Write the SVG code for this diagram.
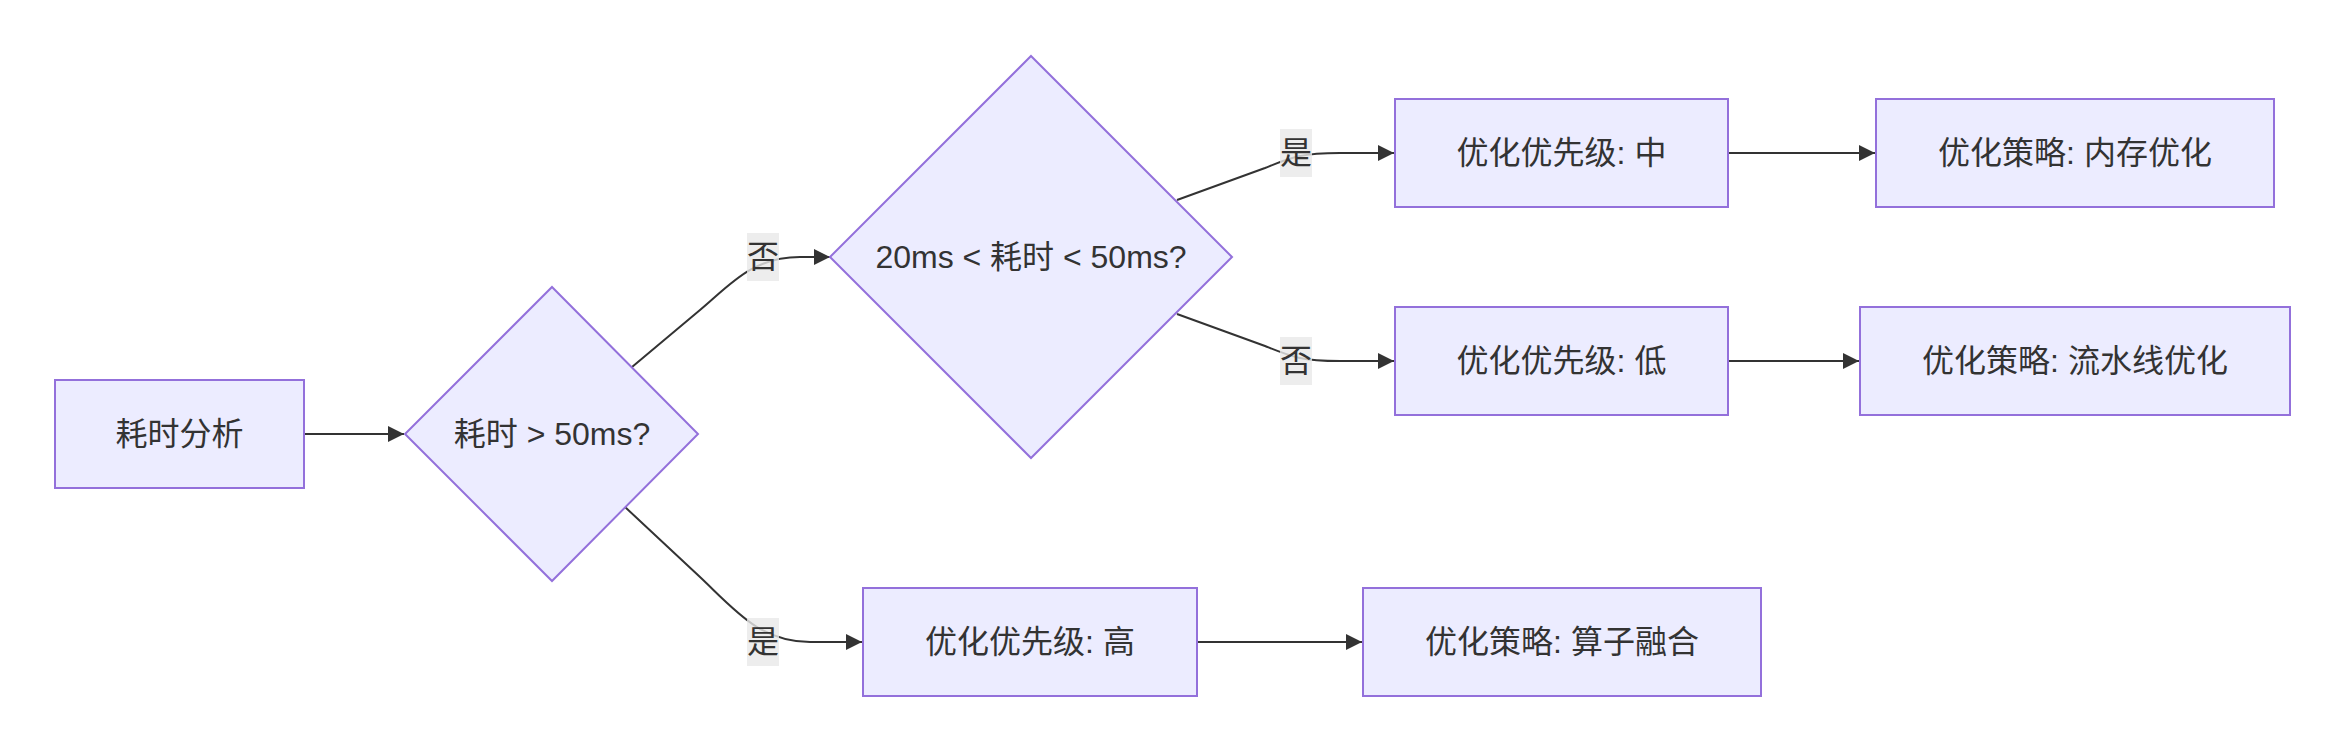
<svg xmlns="http://www.w3.org/2000/svg" width="2345" height="752" viewBox="0 0 2345 752">
<style>
  .node rect, .node polygon { fill: #ECECFF; stroke: #9370DB; stroke-width: 2; }
  .node text, .elabel text { font-family: "Liberation Sans", "Noto Sans CJK SC", sans-serif; font-size: 32px; fill: #333333; text-anchor: middle; dominant-baseline: central; }
  .edge { fill: none; stroke: #333333; stroke-width: 2; marker-end: url(#arrow); }
  .elabel rect { fill: #e8e8e8; fill-opacity: 0.8; }
</style>
<defs>
  <marker id="arrow" viewBox="0 0 10 10" refX="10" refY="5" markerUnits="userSpaceOnUse" markerWidth="16" markerHeight="16" orient="auto">
    <path d="M0,0 L10,5 L0,10 z" fill="#333333"/>
  </marker>
</defs>
<rect width="2345" height="752" fill="#ffffff"/>
<g id="connectors">
  <path class="edge" d="M304,434 L404,434"/>
  <path class="edge" d="M632,367 L700,310 C730,285 752,257 800,257 L830,257"/>
  <path class="edge" d="M625,507 L700,577 C735,610 760,642 810,642 L862,642"/>
  <path class="edge" d="M1177,200 L1265,168 C1290,158 1300,153 1340,153 L1394,153"/>
  <path class="edge" d="M1177,314 L1265,346 C1290,356 1300,361 1340,361 L1394,361"/>
  <path class="edge" d="M1728,153 L1875,153"/>
  <path class="edge" d="M1728,361 L1859,361"/>
  <path class="edge" d="M1197,642 L1362,642"/>
</g>
<g id="edge-labels">
  <g class="elabel" id="label-d1-no"><rect x="747" y="233" width="32" height="48"/><text x="763" y="257">否</text></g>
  <g class="elabel" id="label-d1-yes"><rect x="747" y="618" width="32" height="48"/><text x="763" y="642">是</text></g>
  <g class="elabel" id="label-d2-yes"><rect x="1280" y="129" width="32" height="48"/><text x="1296" y="153">是</text></g>
  <g class="elabel" id="label-d2-no"><rect x="1280" y="337" width="32" height="48"/><text x="1296" y="361">否</text></g>
</g>
<g class="node" id="node-analysis"><rect x="55" y="380" width="249" height="108"/><text x="179.5" y="434">耗时分析</text></g>
<g class="node" id="node-d1"><polygon points="552,287 698,434 552,581 405,434"/><text x="552" y="434">耗时 &gt; 50ms?</text></g>
<g class="node" id="node-d2"><polygon points="1031,56 1232,257 1031,458 830,257"/><text x="1031" y="257">20ms &lt; 耗时 &lt; 50ms?</text></g>
<g class="node" id="node-pri-mid"><rect x="1395" y="99" width="333" height="108"/><text x="1561.5" y="153">优化优先级: 中</text></g>
<g class="node" id="node-str-mem"><rect x="1876" y="99" width="398" height="108"/><text x="2075" y="153">优化策略: 内存优化</text></g>
<g class="node" id="node-pri-low"><rect x="1395" y="307" width="333" height="108"/><text x="1561.5" y="361">优化优先级: 低</text></g>
<g class="node" id="node-str-pipe"><rect x="1860" y="307" width="430" height="108"/><text x="2075" y="361">优化策略: 流水线优化</text></g>
<g class="node" id="node-pri-high"><rect x="863" y="588" width="334" height="108"/><text x="1030" y="642">优化优先级: 高</text></g>
<g class="node" id="node-str-fuse"><rect x="1363" y="588" width="398" height="108"/><text x="1562" y="642">优化策略: 算子融合</text></g>
</svg>
